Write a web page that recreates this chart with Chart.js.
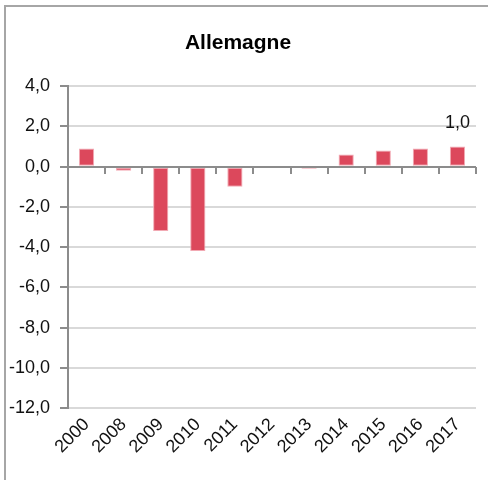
<!DOCTYPE html>
<html>
<head>
<meta charset="utf-8">
<script src="https://cdn.jsdelivr.net/npm/chart.js@4"></script>
<style>
  html, body { margin: 0; padding: 0; background: #fff; }
  #wrap { position: relative; width: 488px; height: 480px; overflow: hidden; }
  #frame { position: absolute; left: 4px; top: 5px; width: 600px; height: 600px;
           border-left: 2px solid #a6a6a6; border-top: 2px solid #a6a6a6; }
  canvas { position: absolute; left: 0; top: 0; }
</style>
</head>
<body>
<div id="wrap">
  <div id="frame"></div>
  <canvas id="c" width="488" height="480"></canvas>
</div>
<script>
// Annual change, Germany
const years = ['2000', '2008', '2009', '2010', '2011', '2012', '2013', '2014', '2015', '2016', '2017'];
const values = [0.9, -0.2, -3.2, -4.2, -1.0, 0.0, -0.1, 0.6, 0.8, 0.9, 1.0];
const yTicks = [4, 2, 0, -2, -4, -6, -8, -10, -12];
const labelledIndex = [10];

const fmt = v => v.toFixed(1).replace('.', ',');
const FONT = "'Liberation Sans', Arial, sans-serif";

// Zero baseline with small marks between categories, plus value labels
const zeroLine = {
  id: 'zeroLine',
  afterDatasetsDraw(chart) {
    const { ctx, chartArea } = chart;
    const x = chart.scales.x, y = chart.scales.y;
    const y0 = Math.round(y.getPixelForValue(0));
    ctx.save();
    ctx.strokeStyle = '#8c8c8c';
    ctx.lineWidth = 2;
    ctx.beginPath();
    ctx.moveTo(chartArea.left, y0);
    ctx.lineTo(chartArea.right, y0);
    const n = years.length;
    for (let i = 1; i <= n; i++) {
      const px = i < n ? (x.getPixelForValue(i - 1) + x.getPixelForValue(i)) / 2 : chartArea.right;
      ctx.moveTo(Math.round(px), y0);
      ctx.lineTo(Math.round(px), y0 + 7);
    }
    ctx.stroke();

    ctx.fillStyle = '#111';
    ctx.font = '18px ' + FONT;
    ctx.textAlign = 'center';
    ctx.textBaseline = 'bottom';
    const meta = chart.getDatasetMeta(0);
    labelledIndex.forEach(i => {
      const bar = meta.data[i];
      ctx.fillText(fmt(values[i]), bar.x, y.getPixelForValue(values[i]) - 15);
    });
    ctx.restore();
  }
};

new Chart(document.getElementById('c'), {
  type: 'bar',
  data: {
    labels: years,
    datasets: [{
      data: values,
      backgroundColor: '#dc485c',
      borderColor: '#f2a9b3',
      borderWidth: 1,
      borderSkipped: false,
      categoryPercentage: 1,
      barPercentage: 0.41
    }]
  },
  options: {
    responsive: false,
    animation: false,
    layout: { padding: { left: 0, right: 12, top: 0, bottom: 0 } },
    plugins: {
      legend: { display: false },
      tooltip: { enabled: false },
      title: {
        display: true,
        text: 'Allemagne',
        color: '#000',
        font: { family: FONT, size: 21, weight: 'bold' },
        padding: { top: 31, bottom: 30 }
      }
    },
    scales: {
      x: {
        grid: { display: false, drawTicks: false },
        border: { display: false },
        ticks: {
          color: '#111',
          font: { family: FONT, size: 18 },
          minRotation: 45,
          maxRotation: 45,
          padding: 6,
          autoSkip: false
        },
        afterFit(scale) { scale.height = 72; }
      },
      y: {
        min: -12,
        max: 4,
        afterBuildTicks(scale) { scale.ticks = yTicks.map(v => ({ value: v })); },
        grid: { color: '#d9d9d9', lineWidth: 2, tickLength: 8, tickColor: '#8c8c8c', tickWidth: 2 },
        border: { display: true, color: '#8c8c8c', width: 2 },
        ticks: {
          color: '#111',
          font: { family: FONT, size: 18 },
          padding: 10,
          callback: v => fmt(v)
        },
        afterFit(scale) { scale.width = 68; }
      }
    }
  },
  plugins: [zeroLine]
});
</script>
</body>
</html>
